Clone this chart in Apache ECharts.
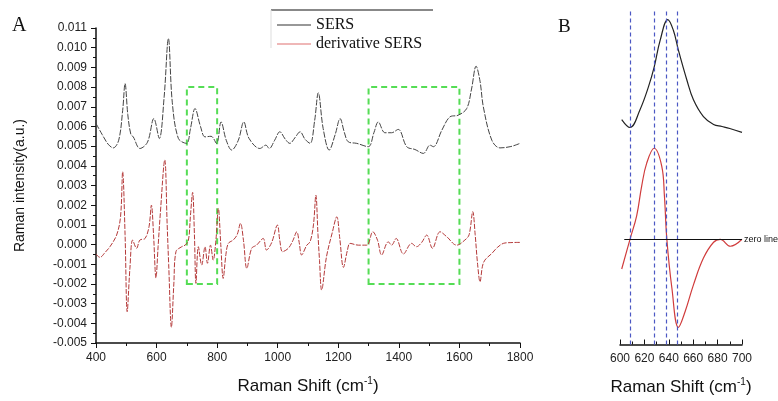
<!DOCTYPE html>
<html>
<head>
  <meta charset="UTF-8">
  <title>SERS</title>
  <script src="https://cdn.jsdelivr.net/npm/echarts@6/dist/echarts.min.js"></script>
</head>
<body style="margin:0">
<div id="main" style="width:778px;height:401px"></div>
<script type="text/javascript">
  // panel A: SERS spectrum (x1e-3 a.u.)
  var sersShift = [400, 420, 440, 457, 475, 488, 496, 505, 515, 523, 545, 570, 591, 609, 625, 639, 652, 672, 699, 712,
    727, 745, 760, 780, 798, 813, 830, 848, 870, 888, 905, 941, 961, 972, 990, 1007, 1025, 1040, 1058, 1074,
    1090, 1107, 1122, 1134, 1150, 1170, 1190, 1206, 1220, 1233, 1261, 1299, 1318, 1332, 1354, 1376, 1398, 1426, 1453, 1481,
    1503, 1514, 1542, 1569, 1596, 1624, 1640, 1655, 1668, 1679, 1707, 1734, 1770, 1800];
  var sersVal = [6.15, 5.6, 5.1, 4.91, 5.3, 6.8, 8.18, 6.6, 5.6, 5.47, 4.88, 5.2, 6.4, 5.39, 7.5, 10.47, 7.2, 5.39, 5.14, 5.9,
    6.91, 6.0, 5.47, 5.5, 5.14, 6.23, 5.3, 4.8, 5.3, 6.23, 5.4, 4.88, 5.05, 4.88, 5.3, 5.73, 5.35, 5.14, 5.45, 5.73,
    5.35, 5.14, 6.3, 7.71, 5.9, 4.8, 5.6, 6.4, 5.7, 5.22, 5.14, 4.97, 5.7, 6.23, 5.68, 5.68, 5.85, 4.97, 4.83, 4.63,
    5.05, 4.97, 5.81, 6.49, 6.57, 6.91, 7.9, 9.06, 8.3, 6.99, 5.3, 4.91, 4.98, 5.14];

  // panel A: derivative SERS (x1e-3)
  var derivShift = [400, 413, 430, 446, 468, 481, 488, 496, 503, 512, 521, 534, 545, 562, 575, 583, 590, 598, 605, 612,
    627, 635, 640, 649, 657, 664, 683, 694, 705, 712, 719, 725, 730, 738, 749, 760, 768, 778, 787, 796,
    804, 812, 820, 829, 837, 853, 866, 877, 887, 898, 914, 930, 952, 963, 980, 999, 1007, 1016, 1035, 1050,
    1063, 1071, 1079, 1096, 1107, 1118, 1126, 1133, 1138, 1145, 1161, 1180, 1195, 1205, 1217, 1230, 1239, 1266, 1294, 1314,
    1330, 1343, 1365, 1376, 1391, 1415, 1442, 1458, 1475, 1492, 1511, 1536, 1558, 1591, 1618, 1632, 1644, 1652, 1660, 1668,
    1676, 1684, 1707, 1725, 1745, 1770, 1800];
  var derivVal = [-0.48, -0.65, -0.4, -0.11, 0.48, 1.41, 3.7, 0.5, -3.41, -1.2, 0.23, -0.19, 0.23, 0.31, 0.9, 2.0, 0.5, -1.7, -0.11, 1.5,
    4.3, 1.0, -1.0, -4.2, -2.0, -0.36, -0.11, -0.03, 0.2, 1.5, 2.65, 0.5, -1.97, -0.11, -1.04, -0.11, -0.95, -0.03, -0.79, 0.23,
    1.84, 0.0, -1.72, -0.5, 0.06, 0.23, 0.5, 1.08, 0.2, -1.21, -0.19, -0.03, 0.31, -0.28, 0.1, 0.99, 0.2, -0.36, -0.19, 0.2,
    0.65, 0.1, -0.53, -0.03, 0.14, 1.0, 2.51, 0.5, -0.8, -2.31, -0.62, 0.6, 1.41, 0.3, -1.16, -0.3, 0.06, -0.03, -0.03, 0.65,
    0.2, -0.53, 0.14, -0.03, 0.31, -0.48, 0.06, -0.11, 0.1, 0.48, -0.19, 0.65, 0.4, -0.03, 0.23, 0.5, 1.67, 0.5, -1.0, -1.89,
    -1.1, -0.79, -0.45, -0.15, 0.06, 0.1, 0.11];

  // panel B: zoom on the 640 band (arbitrary units)
  var bSersShift = [601.4, 608.2, 616.4, 623.3, 628, 632.9, 639.2, 643.8, 647.9, 654.8, 660.2, 668.4, 676.7, 683.6, 690, 700];
  var bSersVal = [1.21, 1.13, 1.31, 1.54, 1.74, 2.01, 2.22, 2.11, 1.91, 1.61, 1.41, 1.24, 1.16, 1.14, 1.12, 1.08];
  var bDerivShift = [601.4, 608.2, 613.7, 617.8, 621.9, 628, 634.2, 636.4, 638.4, 642.5, 647.9, 653.4, 660.2, 668.4, 676.7, 682.2, 690.4, 700];
  var bDerivVal = [-0.30, 0.0, 0.24, 0.54, 0.77, 0.92, 0.74, 0.44, 0.0, -0.49, -0.89, -0.73, -0.46, -0.19, -0.03, 0.0, -0.07, 0.0];
  var bMarks = [608, 628, 638, 647];

  function pairs(xs, ys, k) {
    return xs.map(function (x, i) { return [x, ys[i] * k]; });
  }

  var sansFont = 'Liberation Sans';
  var serifFont = 'Liberation Serif';
  var shiftName = '{a|Raman Shift (cm}{s|-1}{a|)}';
  var shiftRich = {
    a: {fontSize: 17, fontFamily: sansFont, color: '#111'},
    s: {fontSize: 10, fontFamily: sansFont, color: '#111', verticalAlign: 'top', padding: [0, 0, 10, 0]}
  };

  var myChart = echarts.init(document.getElementById('main'));

  var option = {
    animation: false,
    backgroundColor: '#fff',
    legend: {
      data: ['SERS', 'derivative SERS'],
      orient: 'vertical',
      left: 272,
      top: 12,
      icon: 'rect',
      itemWidth: 34,
      itemHeight: 1,
      itemGap: 3,
      textStyle: {fontFamily: serifFont, fontSize: 16, color: '#111'}
    },
    graphic: [
      {type: 'line', shape: {x1: 271, y1: 10, x2: 433, y2: 10}, style: {stroke: '#888', lineWidth: 2}},
      {type: 'line', shape: {x1: 271, y1: 10, x2: 271, y2: 48}, style: {stroke: '#ddd', lineWidth: 1}},
      {type: 'text', left: 12, top: 16, style: {text: 'A', font: '20px "Liberation Serif"', fill: '#111'}},
      {type: 'text', left: 558, top: 18, style: {text: 'B', font: '19px "Liberation Serif"', fill: '#111'}}
    ],
    grid: [
      {left: 96, right: 258, top: 28, bottom: 58},
      {left: 620, right: 36, top: 11, bottom: 54}
    ],
    xAxis: [
      {
        gridIndex: 0, type: 'value', min: 400, max: 1800, interval: 200,
        name: shiftName, nameLocation: 'middle', nameGap: 33,
        nameTextStyle: {rich: shiftRich},
        axisLine: {onZero: false, lineStyle: {color: '#111', width: 1.5}},
        axisTick: {length: 5, lineStyle: {color: '#111'}},
        minorTick: {show: true, splitNumber: 2, length: 3, lineStyle: {color: '#111'}},
        splitLine: {show: false},
        axisLabel: {fontFamily: sansFont, fontSize: 12, color: '#222', margin: 9,
          formatter: function (v) { return String(v); }}
      },
      {
        gridIndex: 1, type: 'value', min: 600, max: 700, interval: 20,
        name: shiftName, nameLocation: 'middle', nameGap: 33,
        nameTextStyle: {rich: shiftRich},
        axisLine: {onZero: false, lineStyle: {color: '#111', width: 1.5}},
        axisTick: {inside: true, length: 5, lineStyle: {color: '#111'}},
        minorTick: {show: true, splitNumber: 2, length: 3, lineStyle: {color: '#111'}},
        splitLine: {show: false},
        axisLabel: {fontFamily: sansFont, fontSize: 12, color: '#222', margin: 8}
      }
    ],
    yAxis: [
      {
        gridIndex: 0, type: 'value', min: -0.005, max: 0.011, interval: 0.001,
        name: 'Raman intensity(a.u.)', nameLocation: 'middle', nameGap: 69,
        nameTextStyle: {fontFamily: sansFont, fontSize: 14, color: '#111'},
        axisLine: {show: true, lineStyle: {color: '#111', width: 1.5}},
        axisTick: {show: true, length: 5, lineStyle: {color: '#111'}},
        minorTick: {show: true, splitNumber: 2, length: 3, lineStyle: {color: '#111'}},
        splitLine: {show: false},
        axisLabel: {
          fontFamily: sansFont, fontSize: 12, color: '#222', margin: 9,
          formatter: function (v) { return v.toFixed(3); }
        }
      },
      {gridIndex: 1, type: 'value', min: -1.063, max: 2.307, show: false, splitLine: {show: false}}
    ],
    series: [
      {
        name: 'SERS', type: 'line', xAxisIndex: 0, yAxisIndex: 0,
        data: pairs(sersShift, sersVal, 0.001),
        smooth: 0.35, showSymbol: false, color: '#333',
        lineStyle: {color: '#444', width: 1, type: [6, 1.5]},
        markArea: {
          silent: true,
          itemStyle: {color: 'rgba(0,0,0,0)', borderColor: '#55dd55', borderWidth: 2, borderType: [6, 4]},
          data: [
            [{xAxis: 700, yAxis: -0.002}, {xAxis: 800, yAxis: 0.008}],
            [{xAxis: 1300, yAxis: -0.002}, {xAxis: 1600, yAxis: 0.008}]
          ]
        }
      },
      {
        name: 'derivative SERS', type: 'line', xAxisIndex: 0, yAxisIndex: 0,
        data: pairs(derivShift, derivVal, 0.001),
        smooth: 0.35, showSymbol: false, color: '#e07070',
        lineStyle: {color: '#b53a3a', width: 1, type: [5, 1.5]}
      },
      {
        name: 'B SERS', type: 'line', xAxisIndex: 1, yAxisIndex: 1,
        data: pairs(bSersShift, bSersVal, 1),
        smooth: 0.4, showSymbol: false,
        lineStyle: {color: '#222', width: 1.2},
        markLine: {
          silent: true, symbol: 'none', label: {show: false},
          lineStyle: {color: '#4c58c4', type: [4, 3], width: 1.2},
          data: bMarks.map(function (m) { return {xAxis: m}; })
        }
      },
      {
        name: 'B derivative', type: 'line', xAxisIndex: 1, yAxisIndex: 1,
        data: pairs(bDerivShift, bDerivVal, 1),
        smooth: 0.4, showSymbol: false,
        lineStyle: {color: '#d03c3c', width: 1.2},
        markLine: {
          silent: true, symbol: 'none',
          lineStyle: {color: '#111', type: 'solid', width: 1},
          label: {show: true, position: 'end', formatter: 'zero line', fontSize: 9, fontFamily: sansFont, color: '#111', distance: 2},
          data: [[{coord: [603.5, 0]}, {coord: [700, 0]}]]
        }
      }
    ]
  };

  myChart.setOption(option);
</script>
</body>
</html>
